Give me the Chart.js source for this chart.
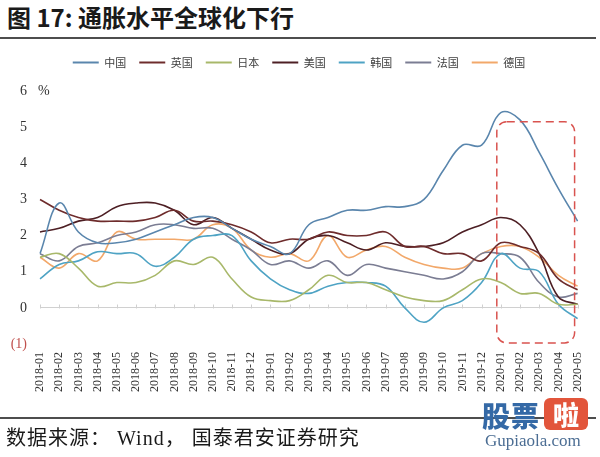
<!DOCTYPE html>
<html lang="zh-CN">
<head>
<meta charset="UTF-8">
<title>通胀水平全球化下行</title>
<script src="https://cdn.jsdelivr.net/npm/chart.js@4.4.1/dist/chart.umd.min.js"></script>
<style>
  body { margin: 0; width: 600px; height: 457px; background: #fff; position: relative; overflow: hidden;
         font-family: "Noto Sans CJK SC", sans-serif; }
  #title { position: absolute; left: 7px; top: 1px; font-size: 24px; font-weight: bold; color: #1a1a1a; line-height: 32px; white-space: pre; }
  .rule { position: absolute; left: 0; width: 596px; height: 2px; background: #4d4d4d; }
  #source { position: absolute; left: 6px; top: 424px; font-size: 20px; line-height: 28px; color: #1a1a1a; letter-spacing: 1px;
            font-family: "Liberation Serif", "Noto Sans CJK SC", serif; }
  #chartBox { position: absolute; left: 0; top: 0; }
  #wm { position: absolute; left: 482px; top: 398px; width: 116px; }
  .wm-blue { font-size: 28px; font-weight: 900; color: #3469a6; line-height: 34px; letter-spacing: 1px; }
  .wm-red { display: inline-block; margin-left: 4px; width: 44px; height: 32px; line-height: 32px; text-align: center;
            background: #e2553b; color: #fff; font-size: 26px; font-weight: 900; border-radius: 6px; vertical-align: top; }
  .wm-url { font-family: "Liberation Serif", serif; font-size: 17px; color: #4b6d93; line-height: 18px; margin-left: 3px; }
</style>
</head>
<body>

<div id="title">图 17: 通胀水平全球化下行</div>
<div class="rule" style="top:37px"></div>

<canvas id="chartBox" width="600" height="457"></canvas>

<div class="rule" style="top:417px"></div>
<div id="source">数据来源： Wind， 国泰君安证券研究</div>
<div id="wm"><span class="wm-blue">股票</span><span class="wm-red">啦</span><div class="wm-url">Gupiaola.com</div></div>

<script>
// CPI yoy (%), monthly 2018-01 .. 2020-05
const months = [
  '2018-01','2018-02','2018-03','2018-04','2018-05','2018-06','2018-07','2018-08','2018-09','2018-10','2018-11','2018-12',
  '2019-01','2019-02','2019-03','2019-04','2019-05','2019-06','2019-07','2019-08','2019-09','2019-10','2019-11','2019-12',
  '2020-01','2020-02','2020-03','2020-04','2020-05'
];
const china   = [1.5, 2.9, 2.1, 1.8, 1.8, 1.9, 2.1, 2.3, 2.5, 2.5, 2.2, 1.9, 1.7, 1.5, 2.3, 2.5, 2.7, 2.7, 2.8, 2.8, 3.0, 3.8, 4.5, 4.5, 5.4, 5.2, 4.3, 3.3, 2.4];
const uk      = [3.0, 2.7, 2.5, 2.4, 2.4, 2.4, 2.5, 2.7, 2.4, 2.4, 2.3, 2.1, 1.8, 1.9, 1.9, 2.1, 2.0, 2.0, 2.1, 1.7, 1.7, 1.5, 1.5, 1.3, 1.8, 1.7, 1.5, 0.8, 0.5];
const japan   = [1.4, 1.5, 1.1, 0.6, 0.7, 0.7, 0.9, 1.3, 1.2, 1.4, 0.8, 0.3, 0.2, 0.2, 0.5, 0.9, 0.7, 0.7, 0.5, 0.3, 0.2, 0.2, 0.5, 0.8, 0.7, 0.4, 0.4, 0.1, 0.1];
const usa     = [2.1, 2.2, 2.4, 2.5, 2.8, 2.9, 2.9, 2.7, 2.3, 2.5, 2.2, 1.9, 1.6, 1.5, 1.9, 2.0, 1.8, 1.6, 1.8, 1.7, 1.7, 1.8, 2.1, 2.3, 2.5, 2.3, 1.5, 0.3, 0.1];
const korea   = [0.8, 1.2, 1.3, 1.55, 1.5, 1.5, 1.15, 1.4, 1.9, 2.0, 2.0, 1.3, 0.8, 0.5, 0.4, 0.6, 0.7, 0.7, 0.6, 0.0, -0.4, 0.0, 0.2, 0.7, 1.5, 1.1, 1.0, 0.1, -0.3];
const france  = [1.5, 1.3, 1.7, 1.8, 2.0, 2.1, 2.3, 2.3, 2.2, 2.2, 1.9, 1.6, 1.2, 1.3, 1.1, 1.3, 0.9, 1.2, 1.1, 1.0, 0.9, 0.8, 1.0, 1.5, 1.5, 1.4, 0.7, 0.3, 0.4];
const germany = [1.4, 1.1, 1.5, 1.3, 2.1, 1.9, 1.9, 1.9, 1.9, 2.3, 2.2, 1.6, 1.4, 1.5, 1.3, 2.0, 1.4, 1.6, 1.7, 1.4, 1.2, 1.1, 1.1, 1.5, 1.7, 1.7, 1.4, 0.9, 0.6];

const seriesNames = ['中国', '英国', '日本', '美国', '韩国', '法国', '德国'];
const seriesData = [china, uk, japan, usa, korea, france, germany];
const seriesColors = ['#5a86ad', '#6e2c2c', '#a8b86a', '#4d1f24', '#4ea3c4', '#7b7d93', '#f2a86a'];

// highlighted window (red dashed box), category range and value range
const boxFrom = '2020-01', boxTo = '2020-05';
const boxTop = 5.15, boxBottom = -0.97;

const legendHeight = {
  id: 'legendHeight',
  beforeInit(chart) {
    const fit = chart.legend.fit;
    chart.legend.fit = function () {
      fit.call(this);
      this.height = 47;
    };
  },
  afterLayout(chart) {
    chart.legend.left += 10;
    chart.legend.right += 10;
  }
};

const decor = {
  id: 'decor',
  beforeDatasetsDraw(chart) {
    const { ctx, scales: { x, y } } = chart;
    const y0 = Math.round(y.getPixelForValue(0)) + 0.5;
    ctx.save();
    ctx.strokeStyle = '#d0d0d0';
    ctx.lineWidth = 1;
    months.forEach((m, i) => {
      const px = Math.round(x.getPixelForValue(i)) + 0.5;
      ctx.beginPath();
      ctx.moveTo(px, y0);
      ctx.lineTo(px, y0 - 4);
      ctx.stroke();
    });
    // unit label next to the top tick
    ctx.fillStyle = '#333';
    ctx.font = '14px "Liberation Serif"';
    ctx.textAlign = 'left';
    ctx.textBaseline = 'middle';
    ctx.fillText('%', x.left - 2, y.getPixelForValue(6));
    ctx.restore();
  },
  afterDatasetsDraw(chart) {
    const { ctx, scales: { x, y } } = chart;
    const l = x.getPixelForValue(months.indexOf(boxFrom)) - 4;
    const r = x.getPixelForValue(months.indexOf(boxTo)) - 3;
    const t = y.getPixelForValue(boxTop);
    const b = y.getPixelForValue(boxBottom);
    ctx.save();
    ctx.strokeStyle = '#d9534f';
    ctx.lineWidth = 1.5;
    ctx.setLineDash([8, 5]);
    ctx.beginPath();
    ctx.roundRect(l, t, r - l, b - t, 10);
    ctx.stroke();
    ctx.restore();
  }
};

new Chart(document.getElementById('chartBox'), {
  type: 'line',
  data: {
    labels: months,
    datasets: seriesNames.map((name, i) => ({
      label: name,
      data: seriesData[i],
      borderColor: seriesColors[i],
      backgroundColor: seriesColors[i],
      borderWidth: 1.6,
      pointRadius: 0,
      tension: 0.4,
      fill: false
    }))
  },
  options: {
    responsive: false,
    animation: false,
    layout: { padding: { top: 44, right: 22, left: 0, bottom: 0 } },
    plugins: {
      tooltip: { enabled: false },
      legend: {
        position: 'top',
        labels: {
          boxWidth: 26,
          boxHeight: 2,
          padding: 13,
          color: '#404040',
          font: { family: '"Noto Sans CJK SC"', size: 11 },
          generateLabels(chart) {
            return Chart.defaults.plugins.legend.labels.generateLabels(chart)
              .map(item => ({ ...item, lineWidth: 0 }));
          }
        }
      }
    },
    scales: {
      x: {
        grid: { display: false, drawTicks: false },
        border: { display: false },
        ticks: {
          autoSkip: false,
          maxRotation: 90,
          minRotation: 90,
          padding: 8,
          color: '#333',
          font: { family: '"Liberation Serif"', size: 12 }
        },
        afterFit(scale) { scale.height = 113; }
      },
      y: {
        min: -1,
        max: 6,
        border: { display: false },
        grid: {
          drawTicks: false,
          color: c => (c.tick.value === 0 ? '#d0d0d0' : 'rgba(0,0,0,0)')
        },
        ticks: {
          stepSize: 1,
          padding: 13,
          color: c => (c.tick.value < 0 ? '#c0504d' : '#333'),
          font: { family: '"Liberation Serif"', size: 14 },
          callback: v => (v < 0 ? '(' + Math.abs(v) + ')' : v)
        },
        afterFit(scale) { scale.width = 40; }
      }
    }
  },
  plugins: [legendHeight, decor]
});
</script>
</body>
</html>
